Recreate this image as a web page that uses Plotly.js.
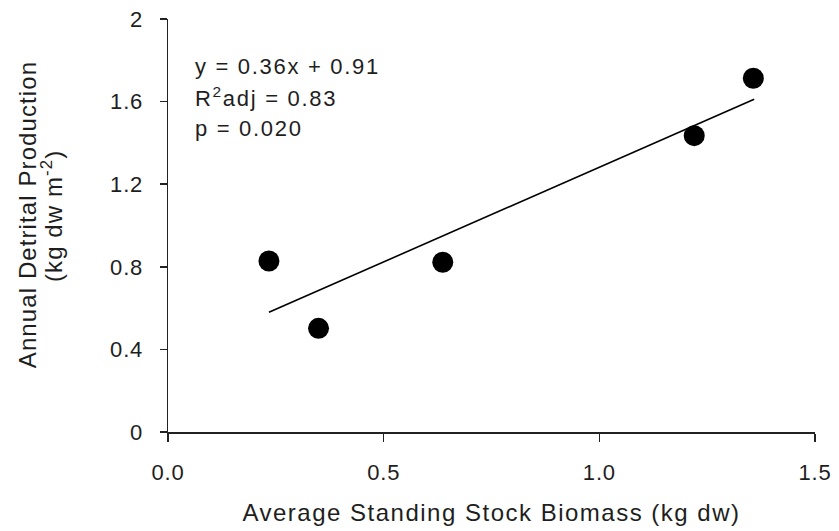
<!DOCTYPE html>
<html>
<head>
<meta charset="utf-8">
<script src="https://cdn.plot.ly/plotly-3.0.1.min.js"></script>
<style>
html,body{margin:0;padding:0;background:#fff;}
#chart{width:839px;height:531px;}
#chart .xtick text, #chart .ytick text{letter-spacing:0.8px;}
#chart .g-xtitle text{letter-spacing:1.5px;}
#chart .ytitle-ann .annotation-text{letter-spacing:1.1px;}
#chart .stat-ann .annotation-text{letter-spacing:1.7px;}
</style>
</head>
<body>
<div id="chart"></div>
<script>
// Data
const biomass = [0.234, 0.349, 0.637, 1.220, 1.357];
const production = [0.828, 0.502, 0.822, 1.435, 1.713];
const fitX = [0.234, 1.359];
const fitY = [0.580, 1.611];
const xTicks = [0, 0.5, 1.0, 1.5];
const xTickText = ["0.0", "0.5", "1.0", "1.5"];
const yTicks = [0, 0.4, 0.8, 1.2, 1.6, 2];
const yTickText = ["0", "0.4", "0.8", "1.2", "1.6", "2"];
const statLines = ["y = 0.36x + 0.91", "R<sup>2</sup>adj = 0.83", "p = 0.020"];
const yTitleLines = ["Annual Detrital Production", "(kg dw m<sup>-2</sup>)"];

const font = "Liberation Sans, Arial, sans-serif";
const ink = "#1e1e1e";

const traces = [
  {x: fitX, y: fitY, mode: "lines", type: "scatter",
   line: {color: "#000", width: 1.6}, hoverinfo: "skip", showlegend: false},
  {x: biomass, y: production, mode: "markers", type: "scatter",
   marker: {color: "#000", size: 21}, showlegend: false}
];

const statY = [0.886, 0.811, 0.736];
const annotations = statLines.map((t, i) => ({
  xref: "paper", yref: "paper", x: 0.038, y: statY[i],
  xanchor: "left", yanchor: "middle", align: "left", text: t, showarrow: false,
  font: {family: font, size: 22, color: ink}
}));
const yTitleX = [-0.2164, -0.1793];
const yTitleY = [0.528, 0.523];
yTitleLines.forEach((t, i) => annotations.push({
  xref: "paper", yref: "paper", x: yTitleX[i], y: yTitleY[i],
  xanchor: "center", yanchor: "middle", textangle: -90, text: t, showarrow: false,
  font: {family: font, size: 24, color: ink}
}));

const layout = {
  width: 839, height: 531,
  margin: {l: 168, r: 24, t: 19, b: 99},
  paper_bgcolor: "#fff", plot_bgcolor: "#fff",
  showlegend: false,
  font: {family: font, size: 22, color: ink},
  xaxis: {
    range: [0, 1.5], tickvals: xTicks, ticktext: xTickText,
    showgrid: false, zeroline: false, showline: true, linecolor: "#222", linewidth: 1.5,
    ticks: "outside", ticklen: 8, tickwidth: 1.5, tickcolor: "#222",
    ticklabelstandoff: 12,
    tickfont: {family: font, size: 22, color: ink},
    title: {text: "Average Standing Stock Biomass (kg dw)", font: {family: font, size: 24, color: ink}, standoff: 20},
    automargin: false, fixedrange: true
  },
  yaxis: {
    range: [0, 2], tickvals: yTicks, ticktext: yTickText,
    showgrid: false, zeroline: false, showline: true, linecolor: "#222", linewidth: 1.5,
    ticks: "outside", ticklen: 7, tickwidth: 1.5, tickcolor: "#222",
    ticklabelstandoff: 12,
    tickfont: {family: font, size: 22, color: ink},
    automargin: false, fixedrange: true
  },
  annotations: annotations
};

Plotly.newPlot("chart", traces, layout, {displayModeBar: false, staticPlot: true}).then(gd => {
  const anns = gd.querySelectorAll(".annotation");
  anns.forEach((el, i) => el.classList.add(i < statLines.length ? "stat-ann" : "ytitle-ann"));
});
</script>
</body>
</html>
